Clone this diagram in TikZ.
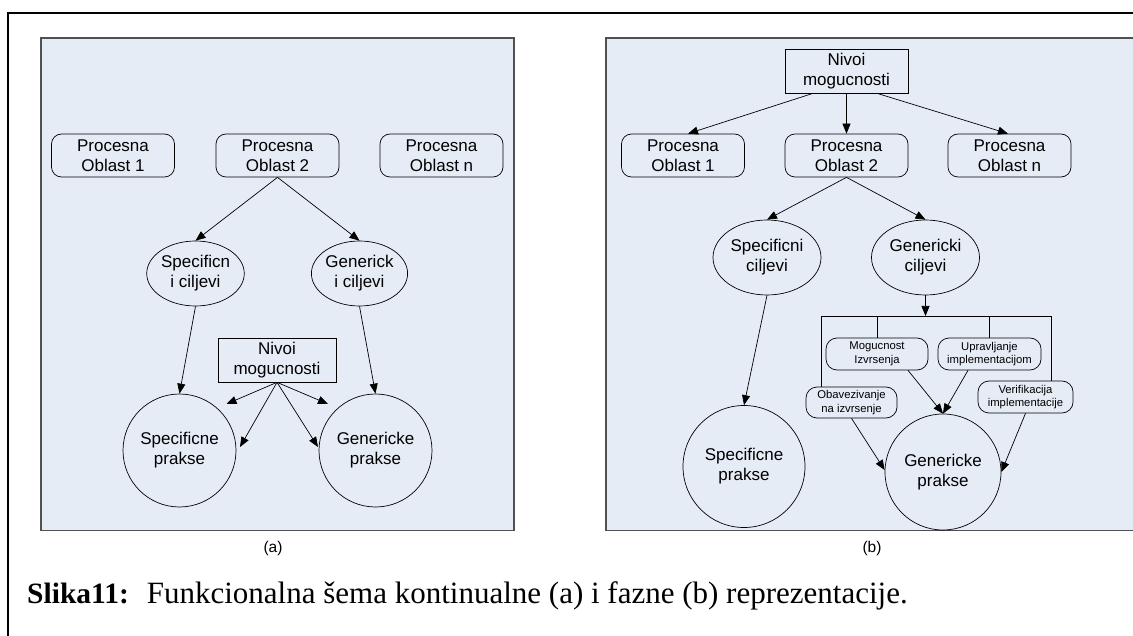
\documentclass[tikz,border=0pt]{standalone}
\usepackage{fontspec}
\setmainfont{Liberation Serif}
\newfontfamily\arial{Liberation Sans}
\usetikzlibrary{arrows.meta,shapes.geometric,calc}
\definecolor{panelfill}{RGB}{230,236,246}
\definecolor{panelline}{RGB}{80,80,80}
\tikzset{
  base/.style={draw=black, line width=0.7pt, align=center, inner sep=0pt,
    font=\arial\fontsize{17}{20}\selectfont},
  area/.style={base, rounded corners=10pt, minimum width=123pt, minimum height=43pt},
  levelbox/.style={base, minimum width=121pt, minimum height=44pt},
  goal/.style={base, ellipse},
  practice/.style={base, circle},
  subarea/.style={base, rounded corners=11pt, minimum height=32pt,
    font=\arial\fontsize{11.3}{13.7}\selectfont},
  arr/.style={line width=0.7pt, -{Triangle[length=10pt,width=8pt]}},
  link/.style={line width=0.7pt},
  panel/.style={fill=panelfill, draw=panelline, line width=1.3pt},
  sublabel/.style={font=\arial\fontsize{15.5}{18}\selectfont, inner sep=0pt}
}
\begin{document}
\begin{tikzpicture}[x=1pt,y=-1pt]
\useasboundingbox (0,0) rectangle (1133,636);
\clip (0,0) rectangle (1133,636);

% outer frame
\draw[line width=2pt] (8,640) -- (8,13) -- (1140,13);

% panels
\draw[panel] (41,38) rectangle (514,530.5);
\draw[panel] (606,38) rectangle (1150,530.5);

% ---------- (a) continuous representation ----------
\node[area] (pa1) at (113,155.5) {Procesna\\Oblast 1};
\node[area] (pa2) at (277.5,155.5) {Procesna\\Oblast 2};
\node[area] (pan) at (441.5,155.5) {Procesna\\Oblast n};
\node[goal, minimum width=93pt, minimum height=65pt] (sca) at (195.5,273.5) {Specificn\\i ciljevi};
\node[goal, minimum width=93pt, minimum height=65pt] (gca) at (359.5,273.5) {Generick\\i ciljevi};
\node[levelbox, minimum width=118pt] (nma) at (277,360) {Nivoi\\mogucnosti};
\node[practice, minimum size=113pt] (spa) at (179.5,450.5) {Specificne\\prakse};
\node[practice, minimum size=113pt] (gpa) at (375.5,450.5) {Genericke\\prakse};
\node[sublabel] (la) at (273,548) {(a)};

\draw[arr] (pa2.south) -- (sca.north);
\draw[arr] (pa2.south) -- (gca.north);
\draw[arr] (sca.south) -- (spa.north);
\draw[arr] (gca.south) -- (gpa.north);
\draw[arr] (nma.south) -- ([xshift=47pt,yshift=46.5pt]spa.center);
\draw[arr] (nma.south) -- ([xshift=60.5pt,yshift=3.5pt]spa.center);
\draw[arr] (nma.south) -- ([xshift=-47.5pt,yshift=46.5pt]gpa.center);
\draw[arr] (nma.south) -- ([xshift=-57.5pt,yshift=3.5pt]gpa.center);

% ---------- (b) staged representation ----------
\node[levelbox, minimum width=123pt] (nmb) at (846.5,71) {Nivoi\\mogucnosti};
\node[area] (pb1) at (683,155.5) {Procesna\\Oblast 1};
\node[area] (pb2) at (846.5,155.5) {Procesna\\Oblast 2};
\node[area] (pbn) at (1009.5,155.5) {Procesna\\Oblast n};
\node[goal, minimum width=108pt, minimum height=75pt] (scb) at (767,257.5) {Specificni\\ciljevi};
\node[goal, minimum width=108pt, minimum height=75pt] (gcb) at (925.5,257.5) {Genericki\\ciljevi};
\node[subarea, minimum width=102pt] (mi) at (877,354) {Mogucnost\\Izvrsenja};
\node[subarea, minimum width=103pt] (ui) at (989.5,354) {Upravljanje\\implementacijom};
\node[subarea, minimum width=91pt, minimum height=31pt] (ob) at (851.5,402.5) {Obavezivanje\\na izvrsenje};
\node[subarea, minimum width=95pt] (vi) at (1025.5,397) {Verifikacija\\implementacije};
\node[practice, minimum size=122pt] (spb) at (744,466.5) {Specificne\\prakse};
\node[practice, minimum size=116pt] (gpb) at (943,472) {Genericke\\prakse};
\node[sublabel] (lb) at (872,548) {(b)};

\draw[arr] ([xshift=-33.5pt]nmb.south) -- ([xshift=5pt]pb1.north);
\draw[arr] (nmb.south) -- (pb2.north);
\draw[arr] ([xshift=30.5pt]nmb.south) -- ([xshift=-1.5pt]pbn.north);
\draw[arr] (pb2.south) -- (scb.north);
\draw[arr] (pb2.south) -- (gcb.north);
\draw[arr] (scb.south) -- (spb.north);

% bracket distributing the generic goals
\coordinate (brl) at (821,316);
\coordinate (brr) at (1051,316);
\draw[arr] (gcb.south) -- (gcb.south |- brl);
\draw[link] (ob.north -| brl) -- (brl) -- (brr) -- (vi.north -| brr);
\draw[link] (mi.north) -- (mi.north |- brl);
\draw[link] (ui.north) -- (ui.north |- brl);

\draw[arr] ([xshift=31pt]mi.south) -- (gpb.north);
\draw[arr] ([xshift=-21.5pt]ui.south) -- (gpb.north);
\draw[arr] (ob.south) -- ([yshift=2pt]gpb.west);
\draw[arr] (vi.south) -- (gpb.east);

% caption
\node[anchor=base west, inner sep=0pt] (cap) at (27,603)
  {\fontsize{29.5}{34}\selectfont\textbf{Slika11:}\hspace{18pt}\fontsize{31}{34}\selectfont Funkcionalna šema kontinualne (a) i fazne (b) reprezentacije.};
\end{tikzpicture}
\end{document}
